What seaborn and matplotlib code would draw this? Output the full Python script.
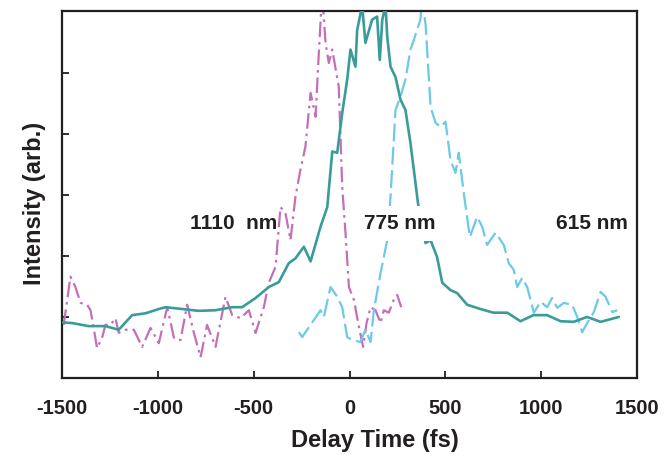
import matplotlib
matplotlib.use("Agg")
import matplotlib.pyplot as plt
import seaborn as sns
import numpy as np
import pandas as pd

# ---- data ----
t_775 = [-1498, -1447, -1362, -1273, -1204, -1134, -1064, -995, -960, -873, -787, -699,
         -612, -560, -490, -421, -369, -317, -282, -238, -203, -151, -116, -90, -64, -38,
         -12, 5, 31, 40, 66, 83, 118, 144, 158, 171, 188, 197, 214, 240, 266, 292, 318,
         344, 357, 377, 397, 423, 457, 484, 527, 562, 614, 683, 751, 823, 892, 960, 1031,
         1101, 1169, 1240, 1310, 1405]
i_775 = [0.91, 0.90, 0.85, 0.85, 0.79, 1.03, 1.06, 1.13, 1.16, 1.13, 1.10, 1.11,
         1.16, 1.16, 1.31, 1.49, 1.57, 1.88, 1.96, 2.15, 1.91, 2.48, 2.80, 3.71, 3.69, 4.34,
         4.89, 5.38, 5.10, 5.70, 6.10, 5.49, 5.87, 5.92, 5.21, 5.87, 6.10, 5.59, 5.10, 4.93,
         4.56, 4.39, 3.85, 3.20, 2.87, 2.50, 2.21, 2.26, 1.98, 1.56, 1.44, 1.39, 1.20, 1.13,
         1.07, 1.07, 0.93, 1.03, 1.03, 0.93, 0.92, 1.00, 0.92, 1.00]

t_1110 = [-1491, -1456, -1430, -1403, -1369, -1351, -1317, -1290, -1273, -1247, -1221,
          -1204, -1169, -1125, -1082, -1038, -995, -951, -916, -882, -847, -812, -777,
          -743, -699, -647, -612, -569, -525, -490, -447, -421, -386, -360, -334, -308,
          -282, -256, -230, -203, -177, -160, -143, -125, -108, -90, -56, -38, -21, -3,
          23, 49, 71, 89, 110, 136, 162, 179, 205, 231, 249, 270]
i_1110 = [0.87, 1.66, 1.49, 1.23, 1.20, 1.11, 0.49, 0.67, 0.87, 0.87, 0.98,
          0.74, 0.79, 0.79, 0.51, 0.82, 0.57, 1.16, 0.66, 0.62, 1.20, 0.74, 0.34,
          0.87, 0.51, 1.33, 1.03, 0.98, 1.11, 0.74, 1.16, 1.56, 1.82, 2.80, 2.70, 2.26,
          2.97, 3.41, 3.79, 4.67, 4.28, 5.33, 6.30, 5.49, 5.16, 5.38, 4.77, 3.13, 2.38, 1.49,
          1.28, 0.84, 0.51, 0.90, 1.16, 1.11, 0.90, 1.11, 1.07, 1.28, 1.36, 1.16]

t_615 = [-264, -247, -221, -186, -151, -134, -99, -64, -38, -12, 14, 57, 83, 110, 127,
         162, 197, 214, 240, 266, 292, 318, 336, 370, 379, 397, 423, 449, 475, 501, 527,
         553, 570, 596, 628, 666, 692, 718, 762, 805, 831, 857, 875, 901, 927, 962, 997,
         1031, 1057, 1084, 1118, 1162, 1188, 1214, 1240, 1275, 1310, 1336, 1371, 1397]
i_615 = [0.75, 0.67, 0.79, 0.95, 1.11, 1.00, 1.49, 1.33, 1.16, 0.67, 0.62, 0.59, 0.79,
         0.59, 1.11, 1.72, 2.26, 2.97, 4.39, 4.61, 4.89, 5.38, 5.54, 5.87, 6.20, 5.79, 4.44,
         4.18, 4.11, 4.20, 3.57, 3.36, 3.69, 3.03, 2.31, 2.64, 2.48, 2.18, 2.38, 2.18, 1.88,
         1.77, 1.49, 1.64, 1.49, 1.07, 1.25, 1.16, 1.31, 1.15, 1.23, 1.20, 1.00, 0.75, 0.90,
         1.08, 1.41, 1.33, 1.08, 1.11]

x_ticks = [-1500, -1000, -500, 0, 500, 1000, 1500]
y_ticks = [1, 2, 3, 4, 5]
labels = ["1110  nm", "775 nm", "615 nm"]
label_x = [-605, 261, 1266]
label_y = [2.53, 2.53, 2.53]

c_775 = "#3a9c99"
c_1110 = "#c46fb9"
c_615 = "#6ccae6"
ink = "#231f20"

# ---- plot ----
sns.set_style("ticks")
plt.rcParams['font.family'] = ['Liberation Sans', 'DejaVu Sans']

fig = plt.figure(figsize=(6.71, 4.62), dpi=100)
ax = fig.add_axes([62/671, 1 - 378/462, 575/671, (378 - 10.5)/462])

df1110 = pd.DataFrame({"t": t_1110, "i": i_1110})
df775 = pd.DataFrame({"t": t_775, "i": i_775})
df615 = pd.DataFrame({"t": t_615, "i": i_615})

sns.lineplot(data=df1110, x="t", y="i", ax=ax, color=c_1110, lw=1.6, sort=False,
             dashes=(7, 2.2, 1.2, 2.2), zorder=2)
sns.lineplot(data=df615, x="t", y="i", ax=ax, color=c_615, lw=1.6, sort=False,
             dashes=(8, 2.5), zorder=2)
sns.lineplot(data=df775, x="t", y="i", ax=ax, color=c_775, lw=1.9, sort=False, zorder=3)

for k, (s, x, y) in enumerate(zip(labels, label_x, label_y)):
    kw = {}
    if k == 1:
        kw["bbox"] = dict(facecolor="white", edgecolor="none", boxstyle="square,pad=0.4")
    ax.text(x, y, s, ha="center", va="center", fontsize=15, fontweight="bold",
            color=ink, zorder=5, **kw)

ax.set_xlim(-1500, 1500)
ax.set_ylim(0, 6.02)
ax.set_xticks(x_ticks)
ax.set_xticklabels([str(v) for v in x_ticks])
ax.set_yticks(y_ticks)
ax.set_yticklabels([])
ax.tick_params(axis="both", direction="in", length=5, width=1.3, color=ink)
ax.tick_params(axis="x", pad=15, labelsize=14.5)
for lab in ax.get_xticklabels():
    lab.set_fontweight("bold")
    lab.set_color(ink)
for sp in ax.spines.values():
    sp.set_linewidth(1.6)
    sp.set_color(ink)
    sp.set_visible(True)

ax.set_xlabel("Delay Time (fs)", fontsize=17, fontweight="bold", color=ink, labelpad=8)
ax.set_ylabel("Intensity (arb.)", fontsize=17, fontweight="bold", color=ink, labelpad=8)
ax.xaxis.label.set_x((375 - 62) / 575)
ax.yaxis.label.set_y(0.475)

fig.savefig("out.png", dpi=100)
